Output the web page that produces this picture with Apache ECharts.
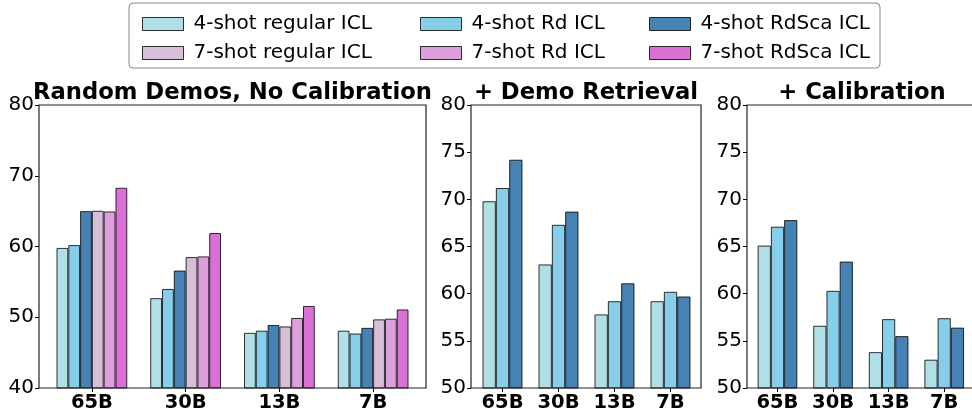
<!DOCTYPE html>
<html>
<head>
<meta charset="utf-8">
<script src="https://cdn.jsdelivr.net/npm/echarts@6/dist/echarts.min.js"></script>
<style>
  html, body { margin: 0; padding: 0; background: #fff; }
  #chart { width: 972px; height: 414px; }
</style>
</head>
<body>
<div id="chart"></div>
<script>
// 模型规模
const categories = ["65B", "30B", "13B", "7B"];
const seriesNames = [
  "4-shot regular ICL", "4-shot Rd ICL", "4-shot RdSca ICL",
  "7-shot regular ICL", "7-shot Rd ICL", "7-shot RdSca ICL"
];
const colors = ["#B0E0E6", "#87CEEB", "#4682B4", "#D8BFD8", "#DDA0DD", "#DA70D6"];
const panelTitles = ["Random Demos, No Calibration", "+ Demo Retrieval", "+ Calibration"];

// 面板1：随机示例，无校准
const random4Regular = [59.8, 52.7, 47.8, 48.1];
const random4Rd = [60.2, 54.0, 48.1, 47.7];
const random4RdSca = [65.0, 56.6, 48.9, 48.5];
const random7Regular = [65.05, 58.5, 48.7, 49.7];
const random7Rd = [64.95, 58.6, 49.9, 49.8];
const random7RdSca = [68.3, 61.9, 51.6, 51.1];

// 面板2：示例检索
const retrieval4Regular = [69.8, 63.1, 57.8, 59.2];
const retrieval4Rd = [71.2, 67.3, 59.2, 60.2];
const retrieval4RdSca = [74.2, 68.7, 61.1, 59.7];

// 面板3：校准
const calib4Regular = [65.1, 56.6, 53.8, 53.0];
const calib4Rd = [67.1, 60.3, 57.3, 57.4];
const calib4RdSca = [67.8, 63.4, 55.5, 56.4];

const yTicks1 = [40, 80, 10];
const yTicks23 = [50, 80, 5];

const FONT = "DejaVu Sans";
const chart = echarts.init(document.getElementById("chart"));

function makeBars(name, data, idx, colorIdx, catGap) {
  return {
    name: name,
    type: "bar",
    xAxisIndex: idx,
    yAxisIndex: idx,
    data: data,
    barGap: "0%",
    barCategoryGap: catGap,
    itemStyle: {
      color: colors[colorIdx],
      borderColor: "rgba(0,0,0,0.8)",
      borderWidth: 1
    },
    emphasis: { disabled: true }
  };
}

// 网格位置
const grids = [
  { left: 45, top: 105, width: 375, height: 283, frameX: 39, frameW: 387, yOffset: 6 },
  { left: 474.5, top: 105, width: 224, height: 283, frameX: 471, frameW: 230, yOffset: 3.5 },
  { left: 749.7, top: 105, width: 224, height: 283, frameX: 747, frameW: 230, yOffset: 2.7 }
];

const xAxes = grids.map((g, i) => ({
  type: "category",
  gridIndex: i,
  data: categories,
  axisLine: { show: false },
  axisTick: { show: true, alignWithLabel: true, length: 4, lineStyle: { color: "#000" } },
  axisLabel: { color: "#000", fontFamily: FONT, fontSize: 19.5, fontWeight: "bold", margin: 5 }
}));

const yAxes = grids.map((g, i) => {
  const t = i === 0 ? yTicks1 : yTicks23;
  return {
    type: "value",
    gridIndex: i,
    min: t[0],
    max: t[1],
    interval: t[2],
    offset: g.yOffset,
    splitLine: { show: false },
    axisLine: { show: false },
    axisTick: { show: true, length: 4, lineStyle: { color: "#000" } },
    axisLabel: { color: "#000", fontFamily: FONT, fontSize: 20, margin: 5 }
  };
});

const series = [
  makeBars(seriesNames[0], random4Regular, 0, 0, "24.5%"),
  makeBars(seriesNames[1], random4Rd, 0, 1, "24.5%"),
  makeBars(seriesNames[2], random4RdSca, 0, 2, "24.5%"),
  makeBars(seriesNames[3], random7Regular, 0, 3, "24.5%"),
  makeBars(seriesNames[4], random7Rd, 0, 4, "24.5%"),
  makeBars(seriesNames[5], random7RdSca, 0, 5, "24.5%"),
  makeBars(seriesNames[0], retrieval4Regular, 1, 0, "28.6%"),
  makeBars(seriesNames[1], retrieval4Rd, 1, 1, "28.6%"),
  makeBars(seriesNames[2], retrieval4RdSca, 1, 2, "28.6%"),
  makeBars(seriesNames[0], calib4Regular, 2, 0, "28.6%"),
  makeBars(seriesNames[1], calib4Rd, 2, 1, "28.6%"),
  makeBars(seriesNames[2], calib4RdSca, 2, 2, "28.6%")
];

// 图例：三列两行
const legendLefts = [137, 415, 644];
const legends = legendLefts.map((x, c) => ({
  orient: "vertical",
  left: x,
  top: 9,
  itemWidth: 41,
  itemHeight: 13,
  itemGap: 9,
  selectedMode: false,
  icon: "rect",
  itemStyle: { borderColor: "rgba(0,0,0,0.8)", borderWidth: 1 },
  textStyle: { fontFamily: FONT, fontSize: 20, color: "#000", padding: [0, 0, 0, 5] },
  data: [seriesNames[c], seriesNames[c + 3]]
}));

const titles = grids.map((g, i) => ({
  text: panelTitles[i],
  left: g.frameX + g.frameW / 2,
  top: 82,
  padding: 0,
  textAlign: "center",
  textStyle: { fontFamily: FONT, fontSize: 22.7, fontWeight: "bold", color: "#000" }
}));

const frames = grids.map(g => ({
  type: "rect",
  shape: { x: g.frameX, y: g.top, width: g.frameW, height: g.height },
  style: { fill: "none", stroke: "#222", lineWidth: 1.2 },
  z: 10
}));
frames.push({
  type: "rect",
  shape: { x: 129, y: 3, width: 751, height: 65, r: 4 },
  style: { fill: "none", stroke: "#888", lineWidth: 1 },
  z: 10
});

chart.setOption({
  animation: false,
  backgroundColor: "#fff",
  title: titles,
  legend: legends,
  grid: grids.map(g => ({ left: g.left, top: g.top, width: g.width, height: g.height })),
  xAxis: xAxes,
  yAxis: yAxes,
  series: series,
  graphic: frames
});
</script>
</body>
</html>
